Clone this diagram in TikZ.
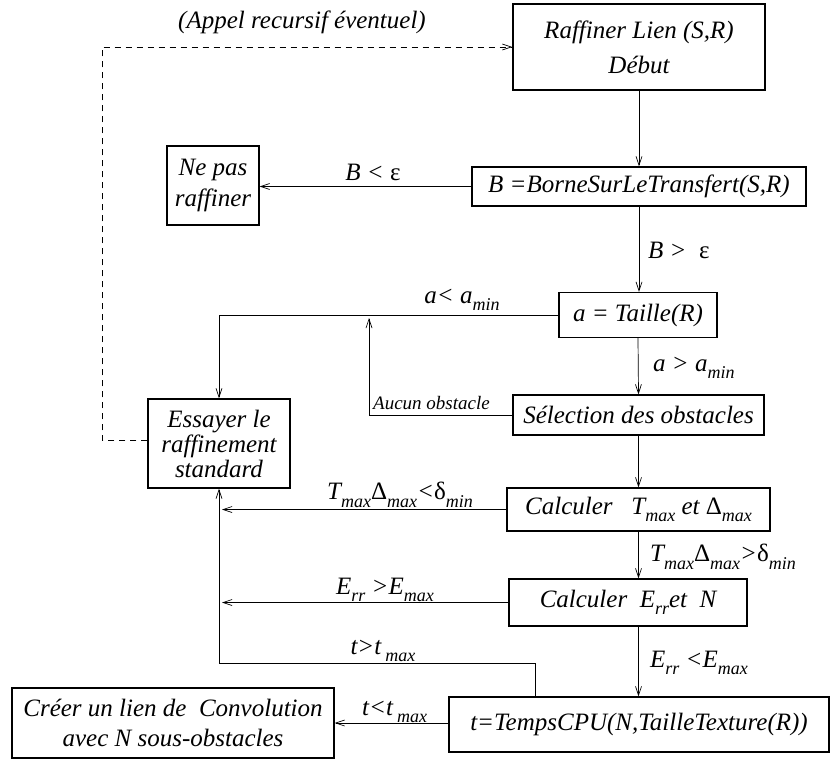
\documentclass[tikz,border=0pt]{standalone}
\usepackage{fontspec}
\setmainfont{Liberation Serif}
\usetikzlibrary{arrows.meta}
\newcommand\sbs[1]{\raisebox{-0.3em}{\fontsize{18}{18}\selectfont\itshape #1}}
\newcommand\gr[1]{{\upshape #1}}
\begin{document}
\begin{tikzpicture}[x=1pt,y=-1pt,
  box/.style={draw, line width=1.1pt, inner sep=0pt, align=center},
  txt/.style={font=\fontsize{25}{#1}\selectfont\itshape},
  txt/.default=30,
  conn/.style={line width=0.7pt, -{Straight Barb[length=9pt,width=6pt]}},
  dconn/.style={conn, dash pattern=on 6pt off 5pt},
  lab/.style={inner sep=0pt, font=\fontsize{25}{25}\selectfont\itshape},
  slab/.style={inner sep=0pt, font=\fontsize{19}{19}\selectfont\itshape}
]
\useasboundingbox (0,0) rectangle (830,760);

% boxes
\node[box, txt=35, minimum width=252pt, minimum height=86pt] (raff) at (639,47) {Raffiner Lien (S,R)\\Début};
\node[box, txt, minimum width=334pt, minimum height=39pt] (B) at (639,186.5) {B =BorneSurLeTransfert(S,R)};
\node[box, txt=31, minimum width=92pt, minimum height=79pt] (ne) at (213,185.5) {Ne pas\\raffiner};
\node[box, txt, minimum width=158pt, minimum height=45pt] (taille) at (638,315) {a = Taille(R)};
\node[box, txt, minimum width=251pt, minimum height=40pt] (sel) at (638.5,415) {Sélection des obstacles};
\node[box, txt=25, minimum width=142pt, minimum height=89pt] (ess) at (219,443.5) {Essayer le\\raffinement\\standard};
\node[box, txt, minimum width=263pt, minimum height=43pt] (calc1) at (638.5,509.5) {Calculer~~~T\sbs{max} et \gr{Δ}\sbs{max}};
\node[box, txt, minimum width=238pt, minimum height=47pt] (calc2) at (628,602.5) {Calculer~~E\sbs{rr}et~~N};
\node[box, txt, minimum width=380pt, minimum height=55pt] (temps) at (639,724.5) {t=TempsCPU(N,TailleTexture(R))};
\node[box, txt=30, minimum width=322pt, minimum height=70pt] (creer) at (173,723) {Créer un lien de~~Convolution\\avec N sous-obstacles};

% labels
\node[lab] (l0) at (302,22) {(Appel recursif éventuel)};
\node[lab] (l1) at (373,172) {B < \gr{ε}};
\node[lab, anchor=west] (l2) at (648,250) {B >~~\gr{ε}};
\node[lab] (l3) at (462,300) {a< a\sbs{min}};
\node[lab, anchor=west] (l4) at (653,368) {a > a\sbs{min}};
\node[slab, anchor=west] (l5) at (373,403) {Aucun obstacle};
\node[lab] (l6) at (400,495) {T\sbs{max}\gr{Δ}\sbs{max}<\gr{δ}\sbs{min}};
\node[lab, anchor=west] (l7) at (650,557) {T\sbs{max}\gr{Δ}\sbs{max}>\gr{δ}\sbs{min}};
\node[lab] (l8) at (385,590) {E\sbs{rr} >E\sbs{max}};
\node[lab, anchor=west] (l9) at (650,663) {E\sbs{rr} <E\sbs{max}};
\node[lab] (l10) at (383,651) {t>t\,\sbs{max}};
\node[lab, anchor=west] (l11) at (362,712) {t<t\,\sbs{max}};

% helper coordinates
\coordinate (d1) at (102,440);
\coordinate (d2) at (102,47);
\coordinate (au) at (369,413);
\coordinate (tp) at (535,697);
\coordinate (tb) at (535,663);

% connectors
\draw[conn] (raff.south) -- (B.north);
\draw[conn] (B.west) -- (B.west -| ne.east);
\draw[conn] (B.south) -- (B.south |- taille.north);
\draw[conn] (taille.west) -- (taille.west -| ess.north) -- (ess.north);
\draw[conn] (taille.south) -- (sel.north);
\draw[conn] (sel.west) -- (sel.west -| au) -- ([yshift=-3pt]au |- taille.west);
\draw[conn] (sel.south) -- (calc1.north);
\draw[conn] (calc1.west) -- ([xshift=3pt]calc1.west -| ess.south);
\draw[conn] (calc1.south) -- (calc1.south |- calc2.north);
\draw[conn] (calc2.west) -- ([xshift=3pt]calc2.west -| ess.south);
\draw[conn] (calc1.south |- calc2.south) -- (calc1.south |- temps.north);
\draw[conn] (tp) -- (tb) -- (tb -| ess.south) -- (ess.south);
\draw[conn] (temps.west |- creer.east) -- (creer.east);
\draw[dconn] (d1 -| ess.west) -- (d1) -- (d2) -- (d2 -| raff.west);
\end{tikzpicture}
\end{document}
